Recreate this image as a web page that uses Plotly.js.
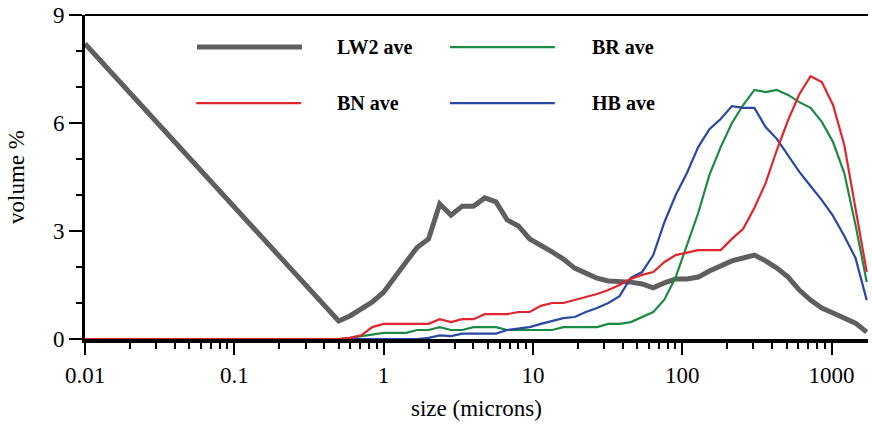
<!DOCTYPE html>
<html>
<head>
<meta charset="utf-8">
<script src="https://cdn.plot.ly/plotly-3.0.1.min.js"></script>
<style>html,body{margin:0;padding:0;background:#fff;}#chart{width:872px;height:425px;}</style>
</head>
<body>
<div id="chart"></div>
<script>
// size classes (microns)
var sizes = [0.01, 0.5, 0.595, 0.707, 0.841, 1, 1.189, 1.414, 1.682, 2, 2.378, 2.828, 3.364, 4, 4.757, 5.657, 6.727, 8, 9.514, 11.31, 13.45, 16, 19.03, 22.63, 26.91, 32, 38.05, 45.25, 53.82, 64, 76.11, 90.51, 107.6, 128, 152.2, 181, 215.3, 256, 304.4, 362, 430.5, 512, 608.9, 724.1, 861.1, 1024, 1218, 1448, 1722];

var seriesNames = ["LW2 ave", "BR ave", "BN ave", "HB ave"];

var lw2 = [8.2, 0.5, 0.64, 0.83, 1.03, 1.3, 1.75, 2.14, 2.55, 2.78, 3.75, 3.44, 3.69, 3.69, 3.92, 3.81, 3.31, 3.14, 2.78, 2.61, 2.42, 2.22, 1.97, 1.83, 1.69, 1.61, 1.61, 1.58, 1.53, 1.42, 1.56, 1.67, 1.67, 1.72, 1.89, 2.03, 2.17, 2.25, 2.33, 2.17, 1.97, 1.72, 1.36, 1.08, 0.86, 0.72, 0.58, 0.44, 0.19];

var br = [0, 0, 0.03, 0.08, 0.14, 0.17, 0.17, 0.17, 0.25, 0.25, 0.33, 0.25, 0.25, 0.33, 0.33, 0.33, 0.25, 0.25, 0.25, 0.25, 0.25, 0.33, 0.33, 0.33, 0.33, 0.42, 0.42, 0.47, 0.61, 0.75, 1.1, 1.72, 2.61, 3.5, 4.56, 5.33, 6.0, 6.5, 6.92, 6.86, 6.92, 6.78, 6.58, 6.42, 6.03, 5.47, 4.61, 3.17, 1.58];

var bn = [0, 0, 0.03, 0.1, 0.33, 0.42, 0.42, 0.42, 0.42, 0.42, 0.55, 0.47, 0.55, 0.55, 0.69, 0.69, 0.69, 0.75, 0.75, 0.92, 1.0, 1.0, 1.08, 1.17, 1.25, 1.36, 1.5, 1.67, 1.78, 1.86, 2.14, 2.33, 2.39, 2.47, 2.47, 2.47, 2.78, 3.06, 3.64, 4.33, 5.25, 6.08, 6.8, 7.3, 7.14, 6.5, 5.39, 3.58, 1.86];

var hb = [0, 0, 0, 0, 0, 0, 0, 0, 0, 0.03, 0.1, 0.08, 0.15, 0.15, 0.15, 0.15, 0.25, 0.3, 0.33, 0.42, 0.5, 0.58, 0.61, 0.75, 0.86, 1.0, 1.19, 1.7, 1.86, 2.33, 3.25, 4.0, 4.61, 5.33, 5.83, 6.11, 6.47, 6.42, 6.42, 5.89, 5.56, 5.11, 4.64, 4.25, 3.86, 3.42, 2.86, 2.25, 1.08];

var xTickVals = [0.01, 0.1, 1, 10, 100, 1000];
var xTickText = ["0.01", "0.1", "1", "10", "100", "1000"];
var xMinorVals = [0.02,0.03,0.04,0.05,0.06,0.07,0.08,0.09,0.2,0.3,0.4,0.5,0.6,0.7,0.8,0.9,2,3,4,5,6,7,8,9,20,30,40,50,60,70,80,90,200,300,400,500,600,700,800,900];
var yTickVals = [0, 3, 6, 9];
var yTickText = ["0", "3", "6", "9"];
var yMinorVals = [1, 2, 4, 5, 7, 8];

var colors = ["#615e5e", "#1b8a45", "#e1252c", "#2a47a2"];
var widths = [5, 2.2, 2.2, 2.2];
var ys = [lw2, br, bn, hb];
var drawOrder = [0, 1, 3, 2]; // red drawn last (on top along the zero line)

var traces = drawOrder.map(function (i) {
  return {
    x: sizes, y: ys[i], type: "scatter", mode: "lines", name: seriesNames[i],
    line: {color: colors[i], width: widths[i], shape: "linear"},
    cliponaxis: false, showlegend: false
  };
});

// manual legend (two columns)
var legPos = [
  {x0: 0.143, x1: 0.277, tx: 0.319, y: 0.901},
  {x0: 0.466, x1: 0.600, tx: 0.645, y: 0.901},
  {x0: 0.142, x1: 0.276, tx: 0.319, y: 0.728},
  {x0: 0.466, x1: 0.600, tx: 0.645, y: 0.728}
];
var shapes = [{type: "line", xref: "paper", yref: "paper", x0: 0, x1: 1, y0: 1, y1: 1, line: {color: "black", width: 2}}];
var annotations = [];
var fontFam = "Liberation Serif, Times New Roman, serif";
legPos.forEach(function (p, i) {
  shapes.push({type: "line", xref: "paper", yref: "paper", x0: p.x0, x1: p.x1, y0: p.y, y1: p.y,
    line: {color: colors[i], width: widths[i]}});
  annotations.push({xref: "paper", yref: "paper", x: p.tx, y: p.y, xanchor: "left", yanchor: "middle",
    text: "<b>" + seriesNames[i] + "</b>", showarrow: false,
    font: {family: fontFam, size: 20, color: "black"}});
});

var layout = {
  width: 872, height: 425,
  margin: {l: 85, r: 4, t: 15, b: 86},
  paper_bgcolor: "white", plot_bgcolor: "white",
  font: {family: fontFam, size: 23, color: "black"},
  xaxis: {
    type: "log", range: [-2, 3.2445],
    showgrid: false, zeroline: false,
    showline: true, linecolor: "black", linewidth: 4,
    ticks: "outside", ticklen: 12, tickwidth: 2, tickcolor: "black",
    tickmode: "array", tickvals: xTickVals, ticktext: xTickText,
    tickfont: {family: fontFam, size: 23, color: "black"},
    minor: {tickmode: "array", tickvals: xMinorVals, ticks: "outside", ticklen: 6, tickwidth: 2, tickcolor: "black", showgrid: false},
    title: {text: "size (microns)", font: {family: fontFam, size: 23, color: "black"}, standoff: 14}
  },
  yaxis: {
    range: [0, 9],
    showgrid: false, zeroline: false,
    showline: true, linecolor: "black", linewidth: 3,
    ticks: "outside", ticklen: 13, tickwidth: 2, tickcolor: "black",
    tickmode: "array", tickvals: yTickVals, ticktext: yTickText,
    tickfont: {family: fontFam, size: 23, color: "black"},
    minor: {tickmode: "array", tickvals: yMinorVals, ticks: "outside", ticklen: 6, tickwidth: 2, tickcolor: "black", showgrid: false},
    title: {text: "volume %", font: {family: fontFam, size: 23, color: "black"}, standoff: 22}
  },
  shapes: shapes,
  annotations: annotations,
  showlegend: false
};

Plotly.newPlot("chart", traces, layout, {displayModeBar: false, staticPlot: true});
</script>
</body>
</html>
